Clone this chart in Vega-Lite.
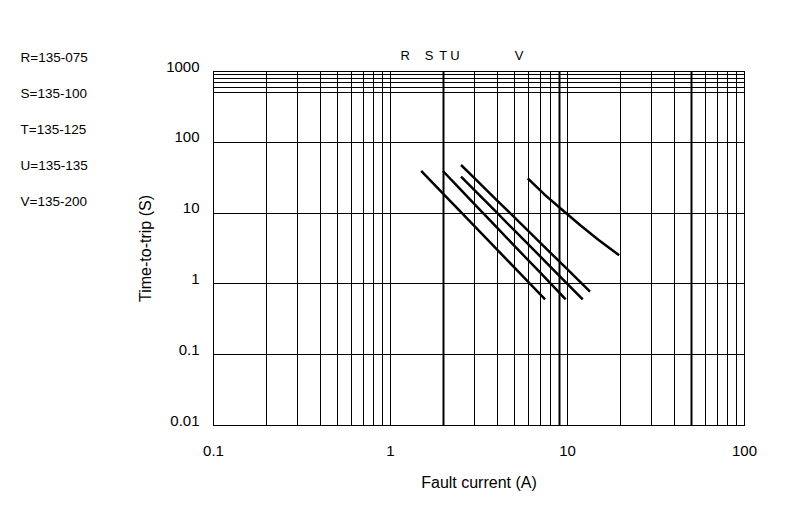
{
  "$schema": "https://vega.github.io/schema/vega-lite/v6.json",
  "autosize": {"type": "none"},
  "width": 531,
  "height": 354,
  "padding": {"left": 213, "top": 71, "right": 56, "bottom": 95},
  "background": "white",
  "config": {
    "view": {"stroke": "black", "strokeWidth": 1},
    "font": "Liberation Sans",
    "axis": {
      "domain": false,
      "ticks": false,
      "grid": true,
      "gridColor": "black",
      "gridOpacity": 1,
      "labelColor": "black",
      "labelFontSize": 15,
      "labelFlush": false,
      "titleColor": "black",
      "titleFontSize": 16,
      "titleFontWeight": "normal",
      "format": "~g"
    }
  },
  "datasets": {
    "curves": [
      {"fuse": "R=135-075", "current": 1.5, "time": 38.7},
      {"fuse": "R=135-075", "current": 2.0, "time": 18.4},
      {"fuse": "R=135-075", "current": 2.51, "time": 10.2},
      {"fuse": "R=135-075", "current": 3.5, "time": 4.31},
      {"fuse": "R=135-075", "current": 4.47, "time": 2.29},
      {"fuse": "R=135-075", "current": 6.0, "time": 1.07},
      {"fuse": "R=135-075", "current": 7.52, "time": 0.596},
      {"fuse": "S=135-100", "current": 1.99, "time": 38.7},
      {"fuse": "S=135-100", "current": 2.5, "time": 21.3},
      {"fuse": "S=135-100", "current": 3.0, "time": 13.2},
      {"fuse": "S=135-100", "current": 4.0, "time": 6.25},
      {"fuse": "S=135-100", "current": 5.0, "time": 3.47},
      {"fuse": "S=135-100", "current": 7.0, "time": 1.45},
      {"fuse": "S=135-100", "current": 9.83, "time": 0.596},
      {"fuse": "T=135-125", "current": 2.52, "time": 32.1},
      {"fuse": "T=135-125", "current": 3.0, "time": 20.7},
      {"fuse": "T=135-125", "current": 3.98, "time": 10.2},
      {"fuse": "T=135-125", "current": 5.0, "time": 5.74},
      {"fuse": "T=135-125", "current": 7.08, "time": 2.39},
      {"fuse": "T=135-125", "current": 9.0, "time": 1.3},
      {"fuse": "T=135-125", "current": 12.27, "time": 0.596},
      {"fuse": "U=135-135", "current": 2.52, "time": 47.0},
      {"fuse": "U=135-135", "current": 3.0, "time": 30.7},
      {"fuse": "U=135-135", "current": 3.98, "time": 15.3},
      {"fuse": "U=135-135", "current": 5.0, "time": 8.75},
      {"fuse": "U=135-135", "current": 7.94, "time": 2.81},
      {"fuse": "U=135-135", "current": 10.0, "time": 1.6},
      {"fuse": "U=135-135", "current": 13.49, "time": 0.764},
      {"fuse": "V=135-200", "current": 6.0, "time": 30.5},
      {"fuse": "V=135-200", "current": 7.5, "time": 17.8},
      {"fuse": "V=135-200", "current": 9.49, "time": 10.7},
      {"fuse": "V=135-200", "current": 11.94, "time": 6.56},
      {"fuse": "V=135-200", "current": 15.03, "time": 4.14},
      {"fuse": "V=135-200", "current": 19.7, "time": 2.5}
    ],
    "tags": [
      {"label": "R", "current": 1.22, "time": 1000},
      {"label": "S", "current": 1.66, "time": 1000},
      {"label": "T", "current": 2.0, "time": 1000},
      {"label": "U", "current": 2.33, "time": 1000},
      {"label": "V", "current": 5.36, "time": 1000}
    ]
  },
  "encoding": {
    "x": {
      "field": "current",
      "type": "quantitative",
      "scale": {"type": "log", "domain": [0.1, 100], "nice": false},
      "axis": {
        "title": "Fault current (A)",
        "values": [0.1, 0.2, 0.3, 0.4, 0.5, 0.6, 0.7, 0.8, 0.9, 1, 2, 3, 4, 5, 6, 7, 8, 9, 10, 20, 30, 40, 50, 60, 70, 80, 90, 100],
        "labelExpr": "indexof([0.1, 1, 10, 100], datum.value) >= 0 ? datum.label : ''",
        "labelBaseline": "middle",
        "labelPadding": 25,
        "titlePadding": 16,
        "gridWidth": {"condition": {"test": "datum.value == 2 || datum.value == 9 || datum.value == 50", "value": 2}, "value": 1}
      }
    },
    "y": {
      "field": "time",
      "type": "quantitative",
      "scale": {"type": "log", "domain": [0.01, 1000], "nice": false},
      "axis": {
        "title": "Time-to-trip (S)",
        "values": [0.01, 0.1, 1, 10, 100, 500, 600, 700, 800, 900, 1000],
        "labelExpr": "indexof([0.01, 0.1, 1, 10, 100, 1000], datum.value) >= 0 ? datum.label : ''",
        "labelBaseline": "alphabetic",
        "labelPadding": 14,
        "titlePadding": 12,
        "gridWidth": 1
      }
    }
  },
  "layer": [
    {
      "data": {"name": "curves"},
      "mark": {"type": "line", "strokeWidth": 2.5},
      "encoding": {
        "stroke": {
          "field": "fuse",
          "type": "nominal",
          "scale": {
            "domain": ["R=135-075", "S=135-100", "T=135-125", "U=135-135", "V=135-200"],
            "range": ["black", "black", "black", "black", "black"]
          },
          "legend": {
            "title": null,
            "orient": "none",
            "legendX": -206,
            "legendY": -20,
            "padding": 0,
            "symbolSize": 0,
            "symbolOpacity": 0,
            "symbolStrokeWidth": 0,
            "labelOffset": 0,
            "labelFontSize": 13.5,
            "labelColor": "black",
            "labelFont": "Liberation Sans",
            "rowPadding": 21
          }
        }
      }
    },
    {
      "data": {"name": "tags"},
      "mark": {"type": "text", "dy": -15, "fontSize": 13, "color": "black", "font": "Liberation Sans"},
      "encoding": {
        "text": {"field": "label"}
      }
    }
  ]
}
